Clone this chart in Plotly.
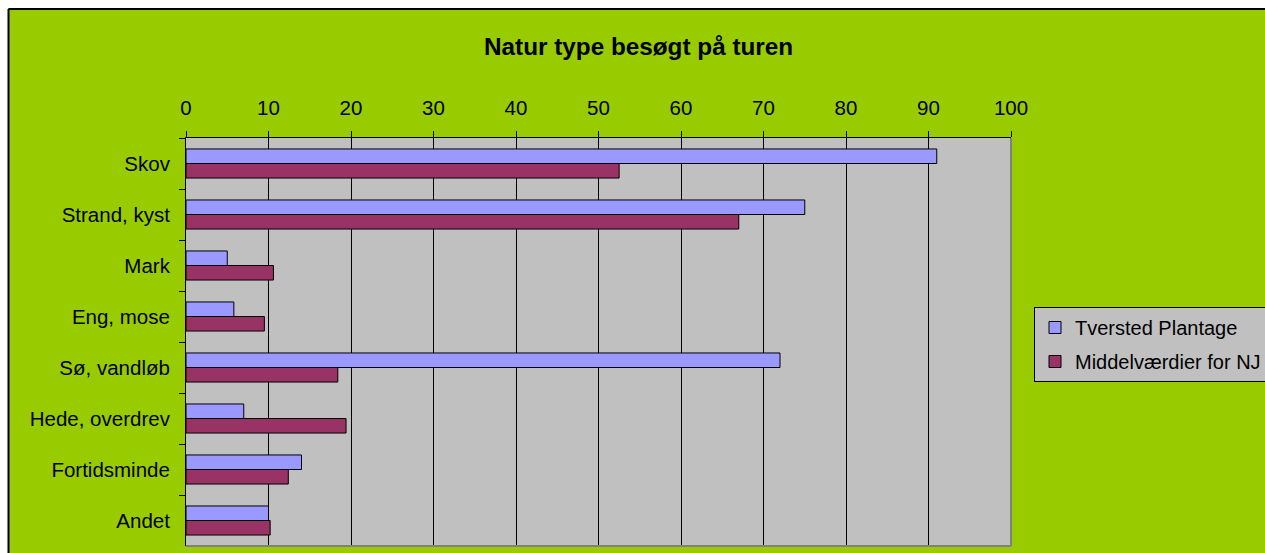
import plotly.graph_objects as go

categories = ["Skov", "Strand, kyst", "Mark", "Eng, mose", "Sø, vandløb",
              "Hede, overdrev", "Fortidsminde", "Andet"]
tversted = [91, 75, 5, 5.8, 72, 7, 14, 10]
middel = [52.5, 67, 10.6, 9.5, 18.4, 19.4, 12.4, 10.2]
series_names = ["Tversted Plantage", "Middelværdier for NJ"]
x_ticks = [0, 10, 20, 30, 40, 50, 60, 70, 80, 90, 100]
title_text = "Natur type besøgt på turen"

W, H = 1265, 553
L, T = 186, 138
PW, PH = 825, 408
R, B = W - L - PW, H - T - PH


def px(p):  # page x pixel -> paper x
    return (p - L) / PW


def py(q):  # page y pixel -> paper y
    return (T + PH - q) / PH


GREEN = "#99CC00"
FONT = "Liberation Sans, Arial, sans-serif"
FS = 20.5

fig = go.Figure()
fig.add_trace(go.Bar(y=categories, x=tversted, name=series_names[0], orientation="h",
                     marker=dict(color="#9999FF", line=dict(color="black", width=1)),
                     legendgroup="a"))
fig.add_trace(go.Bar(y=categories, x=middel, name=series_names[1], orientation="h",
                     marker=dict(color="#993366", line=dict(color="black", width=1)),
                     legendgroup="b"))

shapes = [
    # white page strips outside the chart area
    dict(type="rect", xref="paper", yref="paper", x0=px(0), x1=px(W), y0=py(8), y1=py(0),
         fillcolor="white", line=dict(width=0)),
    dict(type="rect", xref="paper", yref="paper", x0=px(0), x1=px(8), y0=py(H), y1=py(0),
         fillcolor="white", line=dict(width=0)),
    # chart area border (left and top)
    dict(type="line", xref="paper", yref="paper", x0=px(8.5), x1=px(1300), y0=py(9), y1=py(9),
         line=dict(color="black", width=2)),
    dict(type="line", xref="paper", yref="paper", x0=px(8.5), x1=px(8.5), y0=py(9), y1=py(600),
         line=dict(color="black", width=2)),
    # plot area right/bottom border
    dict(type="line", xref="paper", yref="paper", x0=1, x1=1, y0=0, y1=1,
         line=dict(color="#808080", width=2)),
    dict(type="line", xref="paper", yref="paper", x0=0, x1=1, y0=0, y1=0,
         line=dict(color="#808080", width=2)),
]

fig.update_layout(
    width=W, height=H,
    margin=dict(l=L, r=R, t=T, b=B, pad=0, autoexpand=False),
    paper_bgcolor=GREEN,
    plot_bgcolor="#C0C0C0",
    barmode="group",
    bargap=0.43,
    bargroupgap=0,
    font=dict(family=FONT, size=FS, color="black"),
    showlegend=True,
    legend=dict(xref="container", yref="container",
                x=1034 / W, y=1 - 307 / H, xanchor="left", yanchor="top",
                bgcolor="#C0C0C0", bordercolor="black", borderwidth=1,
                font=dict(size=20), traceorder="grouped", tracegroupgap=5),
    shapes=shapes,
    annotations=[dict(text="<b>" + title_text + "</b>", xref="paper", yref="paper",
                      x=px(638), y=py(47), xanchor="center", yanchor="middle",
                      showarrow=False, font=dict(size=24.3, family=FONT))],
    xaxis=dict(side="top", range=[0, 100], tickvals=x_ticks, showgrid=True,
               gridcolor="black", gridwidth=1, zeroline=False, showline=True,
               linecolor="black", linewidth=1, ticks="outside", ticklen=6,
               tickcolor="black", ticklabelstandoff=8, fixedrange=True),
    yaxis=dict(autorange="reversed", showline=True, linecolor="black", linewidth=1,
               ticks="outside", ticklen=6, tickcolor="black", tickson="boundaries",
               showgrid=False, ticklabelstandoff=11, fixedrange=True),
)

fig.write_html("out.html",
               config={"displayModeBar": False},
               post_script="document.body.style.margin='0';document.body.style.overflow='hidden';")
